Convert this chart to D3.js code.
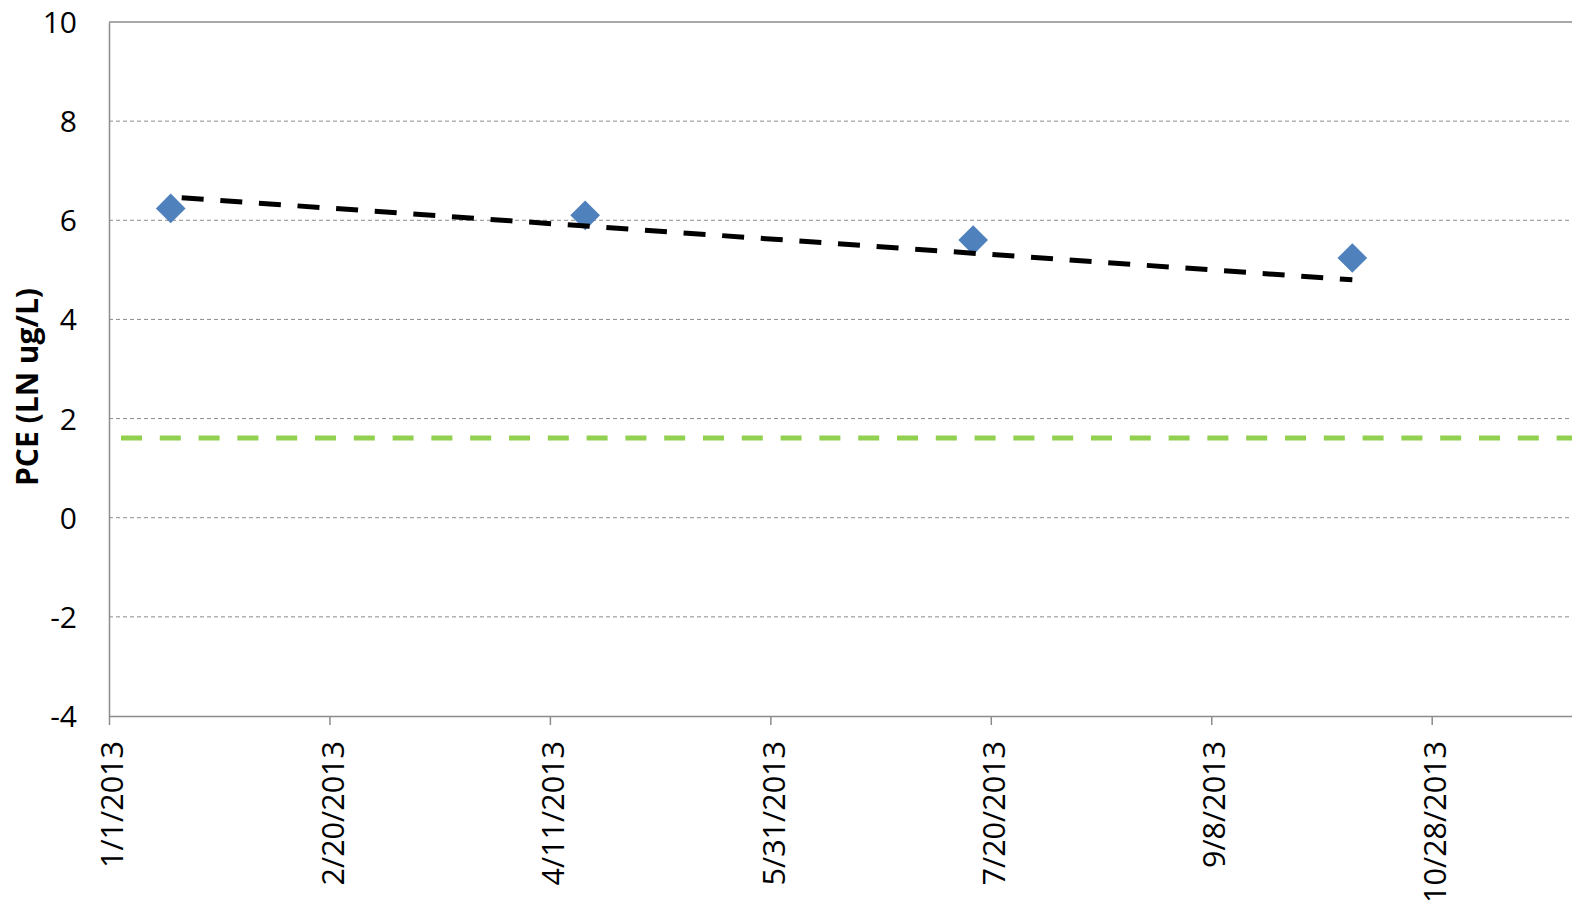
<!DOCTYPE html>
<html>
<head>
<meta charset="utf-8">
<title>PCE (LN ug/L)</title>
<script src="https://cdn.jsdelivr.net/npm/d3@7"></script>
<style>
  body { margin: 0; background: #fff; }
  text { font-family: "Open Sans", sans-serif; fill: #000; }
  .grid line { stroke: #8c8c8c; stroke-width: 1; stroke-dasharray: 4, 3; }
  .axis path, .axis line { stroke: #8c8c8c; stroke-width: 1.5; }
</style>
</head>
<body>
<svg id="chart" width="1572" height="909"></svg>
<script>
// values
const sampleDates = ["2013-01-15", "2013-04-19", "2013-07-16", "2013-10-10"];
const pceValues = [6.24, 6.10, 5.60, 5.24];
const trendDates = ["2013-01-15", "2013-10-10"];
const trendValues = [6.47, 4.80];
const limitValue = 1.609; // LN(5 ug/L)
const xTickLabels = ["1/1/2013", "2/20/2013", "4/11/2013", "5/31/2013", "7/20/2013", "9/8/2013", "10/28/2013"];
const xDomainEnd = "12/17/2013"; // axis runs on past the picture's right edge
const yTicks = [-4, -2, 0, 2, 4, 6, 8, 10];

const parseIso = d3.utcParse("%Y-%m-%d");
const parseTick = d3.utcParse("%m/%d/%Y");
const fmtTick = d3.utcFormat("%-m/%-d/%Y");

const points = sampleDates.map((d, i) => ({ date: parseIso(d), value: pceValues[i] }));
const trend = trendDates.map((d, i) => ({ date: parseIso(d), value: trendValues[i] }));
const xTicks = xTickLabels.map(parseTick);

const svg = d3.select("#chart");
const plotLeft = 109, plotTop = 22, plotBottom = 716;

// 4.409 px per day
const x = d3.scaleUtc()
  .domain([xTicks[0], parseTick(xDomainEnd)])
  .range([plotLeft, plotLeft + 350 * 4.409]);

const y = d3.scaleLinear()
  .domain([-4, 10])
  .range([plotBottom, plotTop]);

// horizontal gridlines
svg.append("g")
  .attr("class", "grid")
  .selectAll("line")
  .data(yTicks.filter(v => v > -4 && v < 10))
  .join("line")
  .attr("x1", plotLeft)
  .attr("x2", x.range()[1])
  .attr("y1", d => y(d))
  .attr("y2", d => y(d));

// top border of plot area
svg.append("line")
  .attr("x1", plotLeft).attr("x2", x.range()[1])
  .attr("y1", y(10)).attr("y2", y(10))
  .attr("stroke", "#8c8c8c").attr("stroke-width", 1.5);

// y axis
const yAxis = svg.append("g")
  .attr("class", "axis")
  .attr("transform", `translate(${plotLeft},0)`)
  .call(d3.axisLeft(y).tickValues(yTicks).tickSize(0).tickPadding(32).tickFormat(d => String(d)));
yAxis.selectAll("text")
  .style("font-family", "'Open Sans', sans-serif")
  .style("font-size", "30px")
  .attr("dy", "0.35em");

// x axis
const xAxis = svg.append("g")
  .attr("class", "axis")
  .attr("transform", `translate(0,${plotBottom})`)
  .call(d3.axisBottom(x).tickValues(xTicks).tickSizeOuter(0).tickSizeInner(9).tickFormat(fmtTick));
xAxis.selectAll("text")
  .style("font-family", "'Open Sans', sans-serif")
  .style("font-size", "30.5px")
  .style("text-anchor", "end")
  .attr("transform", "rotate(-90)")
  .attr("x", -25)
  .attr("y", 3)
  .attr("dy", "0.35em");

// y axis title
svg.append("text")
  .attr("transform", `translate(27,387) rotate(-90)`)
  .attr("text-anchor", "middle")
  .attr("dy", "0.35em")
  .style("font-size", "30px")
  .style("font-weight", "bold")
  .text("PCE (LN ug/L)");

// limit line
svg.append("line")
  .attr("x1", x(xTicks[0]))
  .attr("x2", x.range()[1])
  .attr("y1", y(limitValue))
  .attr("y2", y(limitValue))
  .attr("stroke", "#92d050")
  .attr("stroke-width", 5)
  .attr("stroke-dasharray", "21,17.8")
  .attr("stroke-dashoffset", 26.8);

// data points
svg.append("g")
  .selectAll("path")
  .data(points)
  .join("path")
  .attr("d", d3.symbol().type(d3.symbolSquare).size(440))
  .attr("transform", d => `translate(${x(d.date)},${y(d.value)}) rotate(45)`)
  .attr("fill", "#4f81bd");

// trend line
const line = d3.line()
  .x(d => x(d.date))
  .y(d => y(d.value));

svg.append("path")
  .datum(trend)
  .attr("d", line)
  .attr("fill", "none")
  .attr("stroke", "#000")
  .attr("stroke-width", 5)
  .attr("stroke-dasharray", "22,16.7")
  .attr("stroke-dashoffset", 27.7);
</script>
</body>
</html>
